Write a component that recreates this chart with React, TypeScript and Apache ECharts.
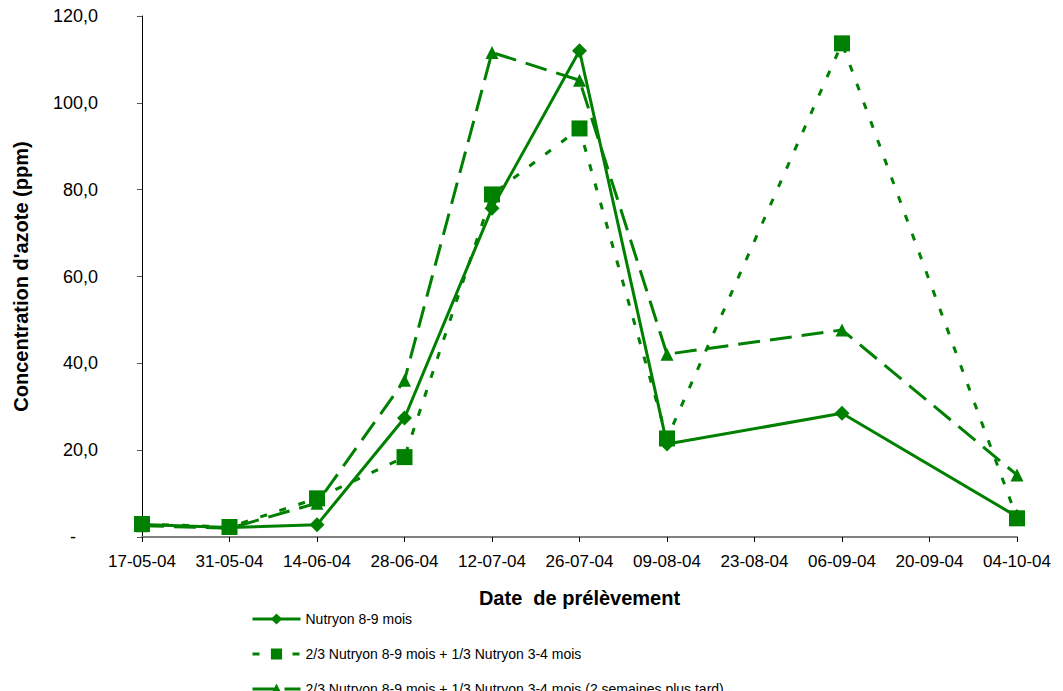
import React, { useEffect, useRef } from "react";
import * as echarts from "echarts";

const dates = [
  "17-05-04", "31-05-04", "14-06-04", "28-06-04", "12-07-04", "26-07-04",
  "09-08-04", "23-08-04", "06-09-04", "20-09-04", "04-10-04",
];
const seriesNames = [
  "Nutryon 8-9 mois",
  "2/3 Nutryon 8-9 mois + 1/3 Nutryon 3-4 mois",
  "2/3 Nutryon 8-9 mois + 1/3 Nutryon 3-4 mois (2 semaines plus tard)",
];
const nutryon89 = [2.9, 2.2, 2.8, 27.4, 75.7, 112.0, 21.4, null, 28.5, null, 4.7];
const mix = [3.0, 2.3, 8.9, 18.4, 78.9, 94.1, 22.7, null, 113.7, null, 4.3];
const mixLate = [2.6, 2.0, 7.8, 36.1, 111.6, 105.2, 42.1, null, 47.7, null, 14.3];

const GREEN = "#008000";
const FONT = "Liberation Sans, Arial, sans-serif";

export default function App() {
  const ref = useRef<HTMLDivElement>(null);
  useEffect(() => {
    if (!ref.current) return;
    const chart = echarts.init(ref.current, null, { renderer: "svg" });
    const mk = (name: string, data: (number | null)[], symbol: string, size: number, type: any, z: number) => ({
      name,
      type: "line",
      data,
      connectNulls: true,
      symbol,
      symbolSize: size,
      showSymbol: true,
      z,
      lineStyle: { color: GREEN, width: 3, type },
      itemStyle: { color: GREEN, borderWidth: 0 },
    });
    const legendTops = [607, 642, 677];
    chart.setOption({
      animation: false,
      textStyle: { fontFamily: FONT },
      grid: { left: 142, right: 46, top: 16, bottom: 154, containLabel: false },
      legend: seriesNames.map((n, i) => ({
        orient: "vertical",
        left: 246,
        top: legendTops[i],
        itemWidth: 48,
        itemHeight: 14,
        lineStyle: { width: 3 },
        textStyle: { fontSize: 14, color: "#000", fontFamily: FONT },
        data: [n],
      })),
      xAxis: {
        type: "category",
        data: dates,
        boundaryGap: false,
        name: "Date  de prélèvement",
        nameLocation: "middle",
        nameGap: 51,
        nameTextStyle: { fontSize: 20, fontWeight: "bold", color: "#000" },
        axisLine: { lineStyle: { color: "#808080", width: 2 } },
        axisTick: { show: true, length: 5, interval: 0, lineStyle: { color: "#000", width: 1 } },
        axisLabel: { fontSize: 17, color: "#000", margin: 16, interval: 0 },
        splitLine: { show: false },
      },
      yAxis: {
        type: "value",
        min: 0,
        max: 120,
        interval: 20,
        name: "Concentration d'azote (ppm)",
        nameLocation: "middle",
        nameGap: 111,
        nameTextStyle: { fontSize: 20, fontWeight: "bold", color: "#000" },
        axisLine: { show: true, lineStyle: { color: "#000", width: 1 } },
        axisTick: { show: true, length: 5, lineStyle: { color: "#555" } },
        axisLabel: {
          fontSize: 18,
          color: "#000",
          margin: 44,
          formatter: (v: number) => (v === 0 ? "{d|-}" : v.toFixed(1).replace(".", ",")),
          rich: { d: { fontSize: 18, color: "#000", padding: [0, 22, 0, 0] } },
        },
        splitLine: { show: false },
      },
      series: [
        mk(seriesNames[0], nutryon89, "diamond", 15, "solid", 3),
        mk(seriesNames[1], mix, "rect", 16, [7, 13], 4),
        mk(seriesNames[2], mixLate, "triangle", 13, [22, 10], 2),
      ],
    });
    return () => chart.dispose();
  }, []);
  return (
    <div
      ref={ref}
      style={{ position: "absolute", left: 0, top: 0, width: 1063, height: 691, background: "#fff" }}
    />
  );
}
